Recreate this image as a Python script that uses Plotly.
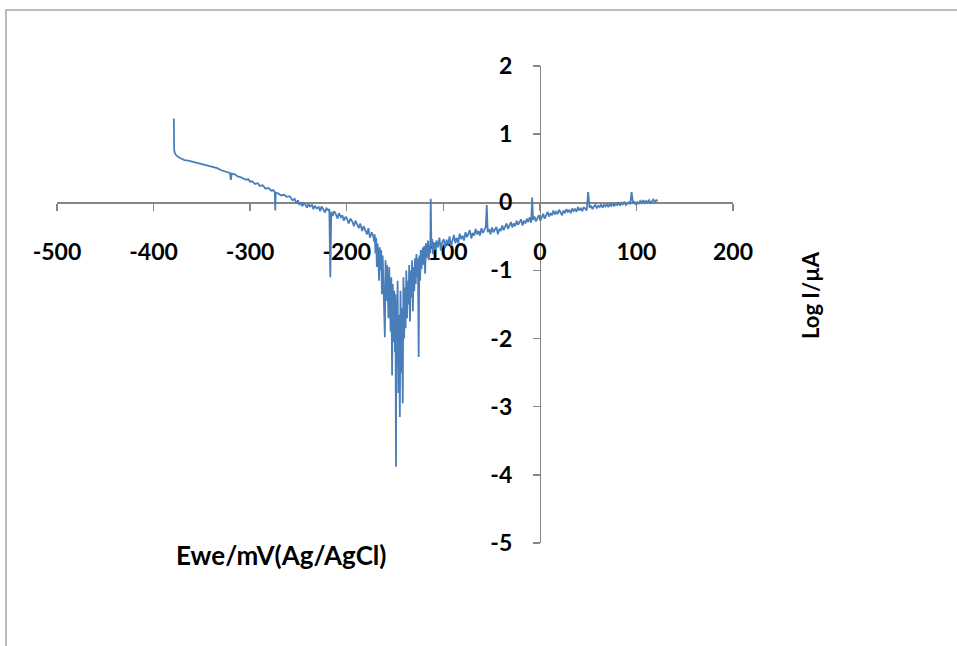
import plotly.graph_objects as go

# Potential (mV vs Ag/AgCl) and log current (log I / uA), by segment
pot_cathodic_tail = [
    -379, -378.9, -378.7, -378, -376, -372.6, -368, -364, -359, -354,
    -350, -346, -342, -338, -334, -330, -327, -324, -321, -320,
    -319, -316, -313, -310, -307, -304, -302, -300, -298, -295,
    -292, -290, -287, -284, -281, -278, -276, -274.5, -274, -273.5,
    -271, -268, -265, -262, -259, -256, -254,
]
log_cathodic_tail = [
    1.23, 0.95, 0.78, 0.72, 0.68, 0.65, 0.62, 0.61, 0.59, 0.57,
    0.56, 0.54, 0.53, 0.51, 0.50, 0.47, 0.46, 0.44, 0.43, 0.33,
    0.42, 0.41, 0.38, 0.37, 0.35, 0.33, 0.34, 0.30, 0.31, 0.27,
    0.28, 0.24, 0.25, 0.20, 0.21, 0.17, 0.18, 0.15, -0.12, 0.14,
    0.13, 0.10, 0.11, 0.08, 0.09, 0.03, 0.05,
]

pot_cathodic_near = [
    -252, -250.5, -249, -247, -246, -244.5, -243, -241, -239.5, -238,
    -236, -234.5, -233, -231, -229, -227.5, -226, -224, -222.5, -221,
    -219, -218, -217, -216, -214.5, -213, -211, -209.5, -208, -206,
    -204.5, -203, -201, -199.5, -198, -196, -194, -192.5, -191, -189,
    -187.5, -186, -184, -182.5, -181, -179, -177.5, -176, -174, -172.5,
]
log_cathodic_near = [
    -0.02, 0.03, -0.04, 0.0, -0.06, -0.01, -0.03, -0.08, -0.02, -0.06,
    -0.04, -0.10, -0.05, -0.09, -0.07, -0.13, -0.06, -0.11, -0.15, -0.09,
    -0.12, -0.10, -1.10, -0.14, -0.20, -0.13, -0.18, -0.24, -0.16, -0.22,
    -0.19, -0.27, -0.21, -0.25, -0.31, -0.24, -0.29, -0.35, -0.27, -0.33,
    -0.38, -0.31, -0.42, -0.35, -0.40, -0.47, -0.38, -0.52, -0.44, -0.50,
]

pot_corrosion = [
    -171.5, -171, -170.2, -169.5, -168.8, -168, -167.3, -166.5, -165.8, -165,
    -164.3, -163.5, -162.8, -162, -161.3, -160.5, -159.8, -159, -158.3, -157.5,
    -156.8, -156, -155.3, -154.5, -153.8, -153, -152.3, -151.5, -150.8, -150,
    -149.5, -149, -148.5, -148, -147.3, -146.5, -145.8, -145, -144.3, -143.5,
    -142.8, -142, -141.3, -140.5, -139.8, -139, -138.3, -137.5, -136.8, -136,
    -135.3, -134.5, -133.8, -133, -132.3, -131.5, -130.8, -130, -129.3, -128.5,
    -127.8, -127, -126.3, -125.5, -124.8, -124, -123.3, -122.5, -121.8, -121,
    -120.3, -119.5, -118.8, -118, -117.3, -116.5, -115.8, -115, -114.3, -113.5,
    -113, -112.3, -111.5, -110.8, -110,
]
log_corrosion = [
    -0.58, -0.47, -0.75, -0.52, -0.95, -0.60, -0.80, -1.15, -0.66, -1.00,
    -0.70, -1.35, -0.78, -1.05, -1.55, -1.98, -0.85, -1.45, -0.92, -1.25,
    -1.70, -0.95, -1.50, -1.90, -1.10, -2.54, -1.20, -2.05, -1.30, -2.20,
    -1.35, -3.88, -1.45, -2.40, -1.15, -2.80, -1.65, -3.15, -1.30, -2.50,
    -1.55, -2.95, -1.10, -2.00, -1.25, -1.85, -1.00, -1.70, -1.15, -1.50,
    -0.92, -1.75, -1.00, -1.40, -0.85, -1.60, -0.95, -1.30, -0.82, -1.20,
    -0.76, -1.10, -0.82, -2.27, -0.78, -1.15, -0.70, -0.98, -0.74, -0.66,
    -0.92, -0.64, -1.05, -0.60, -0.82, -0.66, -0.56, -0.85, -0.62, -0.75,
    0.05, -0.66, -0.54, -0.76, -0.58,
]

pot_anodic_near = [
    -108.5, -107, -105.5, -104, -102.5, -101, -99.5, -98, -96.5, -95,
    -93.5, -92, -90.5, -89, -87.5, -86, -84.5, -83, -81.5, -80,
    -78.5, -77, -75.5, -74, -72.5, -71, -69.5, -68, -66.5, -65,
    -63.5, -62, -60.5, -59, -57.5, -56, -55, -54, -52.5, -51,
    -49.5, -48, -46.5, -45, -43.5, -42, -40.5, -39, -37.5, -36,
    -34.5, -33, -31.5, -30, -28.5, -27, -25.5, -24, -22.5, -21,
    -19.5, -18, -16.5, -15, -13.5, -12, -10.5, -9, -8, -7,
    -5.5, -4, -2.5, -1, 0.5, 2,
]
log_anodic_near = [
    -0.70, -0.56, -0.66, -0.52, -0.71, -0.58, -0.54, -0.67, -0.55, -0.62,
    -0.50, -0.64, -0.56, -0.48, -0.60, -0.52, -0.60, -0.46, -0.54, -0.49,
    -0.56, -0.44, -0.51, -0.47, -0.41, -0.53, -0.45, -0.49, -0.39, -0.47,
    -0.42, -0.49, -0.38, -0.45, -0.41, -0.36, -0.04, -0.44, -0.39, -0.47,
    -0.37, -0.44, -0.40, -0.36, -0.47, -0.39, -0.42, -0.34, -0.41, -0.37,
    -0.31, -0.39, -0.34, -0.29, -0.37, -0.31, -0.35, -0.27, -0.33, -0.29,
    -0.25, -0.34, -0.27, -0.31, -0.24, -0.29, -0.22, -0.30, 0.07, -0.26,
    -0.21, -0.28, -0.23, -0.19, -0.27, -0.21,
]

pot_anodic_far = [
    3.5, 5, 6.5, 8, 9.5, 11, 12.5, 14, 15.5, 17,
    18.5, 20, 21.5, 23, 24.5, 26, 27.5, 29, 30.5, 32,
    33.5, 35, 36.5, 38, 39.5, 41, 42.5, 44, 45.5, 47,
    48.5, 50, 51.5, 53, 54.5, 56, 57.5, 59, 60.5, 62,
    63.5, 65, 66.5, 68, 69.5, 71, 72.5, 74, 75.5, 77,
    78.5, 80, 81.5, 83, 84.5, 86, 87.5, 89, 90.5, 92,
    93.5, 95, 96.5, 98, 99.5, 101, 102.5, 104, 105.5, 107,
    108.5, 110, 111.5, 113, 114.5, 116, 117.5, 119, 120.5, 122,
]
log_anodic_far = [
    -0.17, -0.24, -0.18, -0.14, -0.21, -0.16, -0.19, -0.12, -0.18, -0.14,
    -0.17, -0.11, -0.15, -0.19, -0.12, -0.16, -0.10, -0.14, -0.11, -0.16,
    -0.09, -0.13, -0.10, -0.14, -0.07, -0.12, -0.09, -0.13, -0.07, -0.10,
    -0.12, 0.15, -0.08, -0.05, -0.10, -0.06, -0.04, -0.09, -0.05, -0.07,
    -0.03, -0.08, -0.04, -0.06, -0.02, -0.07, -0.03, -0.05, -0.01, -0.06,
    -0.02, -0.04, 0.0, -0.05, -0.01, -0.03, 0.01, -0.04, -0.02, 0.0,
    -0.03, 0.15, -0.02, 0.01, -0.04, 0.0, -0.02, 0.02, -0.01, 0.03,
    -0.01, 0.02, 0.0, 0.03, -0.01, 0.02, 0.04, 0.0, 0.03, 0.02,
]

x_ticks = [-500, -400, -300, -200, -100, 0, 100, 200]
y_ticks = [-5, -4, -3, -2, -1, 0, 1, 2]

potential_mV = (pot_cathodic_tail + pot_cathodic_near + pot_corrosion
                + pot_anodic_near + pot_anodic_far)
log_current = (log_cathodic_tail + log_cathodic_near + log_corrosion
               + log_anodic_near + log_anodic_far)
assert len(potential_mV) == len(log_current)

W, H = 957, 646
AXIS = "#868686"
FONT = "Lato"

x_dom = [57 / W, 733 / W]
y_dom = [1 - 543 / H, 1 - 66 / H]
x_zero_paper = x_dom[0] + (0 - (-500)) / 700 * (x_dom[1] - x_dom[0])
y_zero_paper = y_dom[0] + (0 - (-5)) / 7 * (y_dom[1] - y_dom[0])

fig = go.Figure()
fig.add_trace(go.Scatter(
    x=potential_mV, y=log_current, mode="lines",
    line=dict(color="#4A7EBB", width=1.8), showlegend=False, hoverinfo="skip",
))

tick_font = dict(family=FONT, size=23, color="#000000", weight="bold")

fig.update_layout(
    width=W, height=H,
    margin=dict(l=0, r=0, t=0, b=0),
    paper_bgcolor="white", plot_bgcolor="white",
    font=dict(family=FONT, color="#000000"),
    xaxis=dict(
        range=[-500, 200], domain=x_dom, anchor="free", position=y_zero_paper,
        tickvals=x_ticks, ticktext=[str(v) for v in x_ticks],
        showline=True, linecolor=AXIS, linewidth=1.5,
        ticks="outside", ticklen=7, tickcolor=AXIS, tickwidth=1.5,
        showgrid=False, zeroline=False, automargin=False,
        ticklabelstandoff=22, layer="below traces", tickfont=tick_font,
    ),
    yaxis=dict(
        range=[-5, 2], domain=y_dom, anchor="free", position=x_zero_paper,
        tickvals=y_ticks, ticktext=[str(v) for v in y_ticks],
        showline=True, linecolor=AXIS, linewidth=1.5,
        ticks="outside", ticklen=7, tickcolor=AXIS, tickwidth=1.5,
        showgrid=False, zeroline=False, automargin=False,
        ticklabelstandoff=16, layer="below traces", tickfont=tick_font,
    ),
    shapes=[dict(
        type="rect", xref="paper", yref="paper",
        x0=6 / W, y0=-0.05, x1=1.05, y1=1 - 10 / H,
        line=dict(color="#A6A6A6", width=1.5), fillcolor="rgba(0,0,0,0)", layer="below",
    )],
    annotations=[
        dict(text="Ewe/mV(Ag/AgCl)", xref="paper", yref="paper",
             x=281 / W, y=1 - 555 / H, showarrow=False, xanchor="center", yanchor="middle",
             font=dict(family=FONT, size=26, color="#000000", weight="bold")),
        dict(text="Log I/µA", xref="paper", yref="paper", textangle=-90,
             x=811 / W, y=1 - 295 / H, showarrow=False, xanchor="center", yanchor="middle",
             font=dict(family=FONT, size=22, color="#000000", weight="bold")),
    ],
)

fig.write_html(
    "out.html",
    config={"displayModeBar": False, "staticPlot": True},
    post_script="document.body.style.margin='0px';document.body.style.padding='0px';"
                "document.body.style.overflow='hidden';",
)
